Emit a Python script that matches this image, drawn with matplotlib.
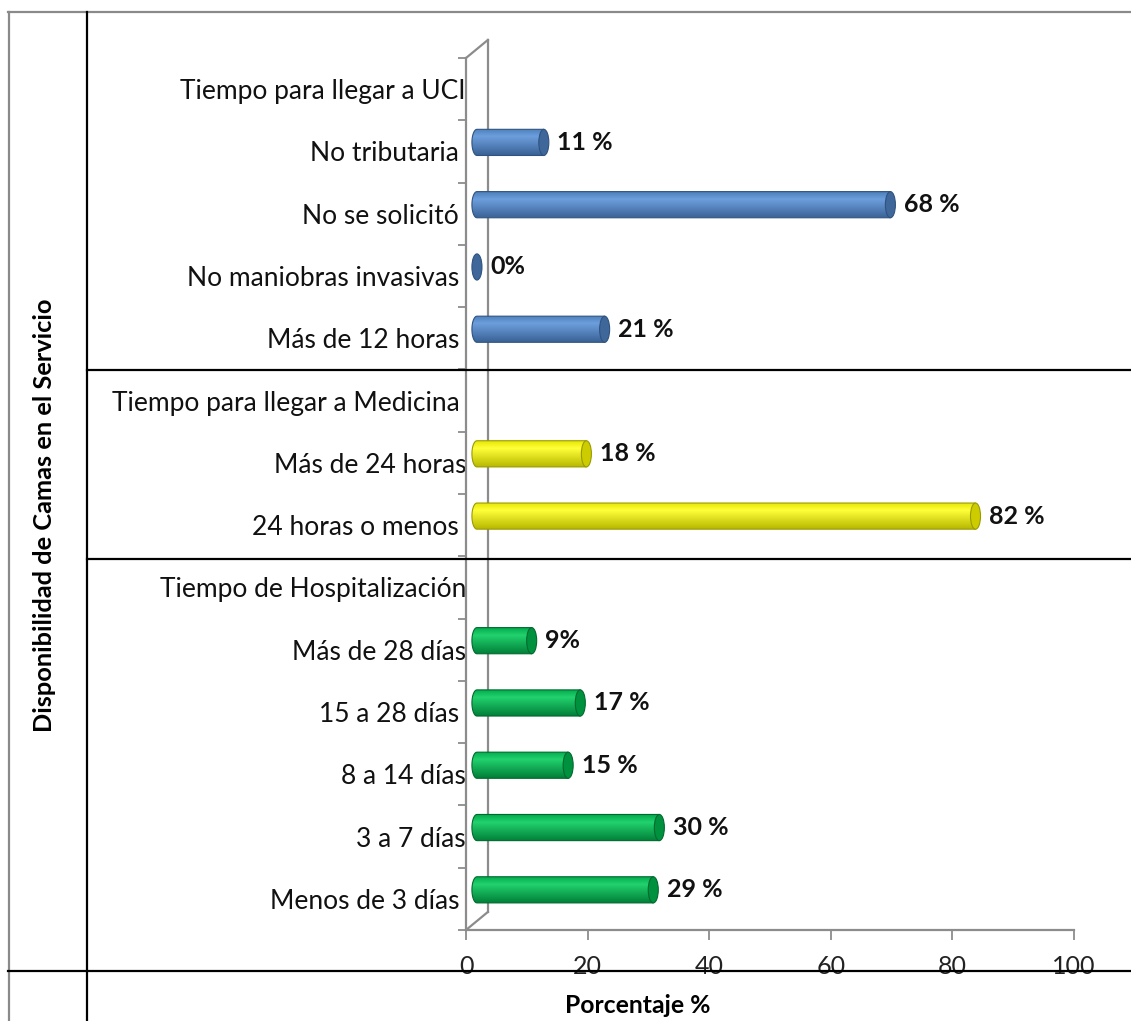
import matplotlib
matplotlib.use("Agg")
import matplotlib.pyplot as plt
import numpy as np
from matplotlib.path import Path
from matplotlib.patches import PathPatch, Ellipse
from matplotlib.lines import Line2D

plt.rcParams['font.family'] = ['Lato', 'DejaVu Sans']

# data, listed top to bottom as in the picture
categories = ["Tiempo para llegar a UCI", "No tributaria ", "No se solicitó ",
              "No maniobras invasivas ", "Más de 12 horas ",
              "Tiempo para llegar a Medicina ", "Más de 24 horas",
              "24 horas o menos ", "Tiempo de Hospitalización",
              "Más de 28 días", "15 a 28 días ", "8 a 14 días", "3 a 7 días",
              "Menos de 3 días "]
values = [None, 11, 68, 0, 21, None, 18, 82, None, 9, 17, 15, 30, 29]
value_labels = ["", "11 %", "68 %", "0%", "21 %", "", "18 %", "82 %", "",
                "9%", "17 %", "15 %", "30 %", "29 %"]
groups = ["uci"] * 5 + ["med"] * 3 + ["hosp"] * 6
x_ticks = [0, 20, 40, 60, 80, 100]

# (top, highlight, bottom, cap, edge)
palette = {
    "uci": ("#4a7cb8", "#6d9fdd", "#3a6296", "#3f6799", "#2f5380"),
    "med": ("#e4e400", "#ffff3a", "#b8b800", "#cccc00", "#9a9a00"),
    "hosp": ("#00a84a", "#22d26e", "#007f38", "#00913f", "#006a2e"),
}

W, H = 1131, 1021
fig = plt.figure(figsize=(W / 100, H / 100), dpi=100)

def fx(px):
    return px / W

def fy(py):
    return 1 - py / H

ax = fig.add_axes([fx(466), fy(930), fx(1074) - fx(466), fy(58) - fy(930)])
n = len(categories)
ax.set_xlim(0, 100)
ax.set_ylim(-0.5, n - 0.5)

gray = "#8c8c8c"
for s in ["top", "right"]:
    ax.spines[s].set_visible(False)
for s in ["left", "bottom"]:
    ax.spines[s].set_color(gray)
    ax.spines[s].set_linewidth(1.6)

ax.set_xticks(x_ticks)
ax.set_xticklabels([str(t) for t in x_ticks], fontsize=18, color="#222222")
ax.tick_params(axis="x", length=7, width=1.3, color=gray, pad=11)

ypos = np.arange(n)[::-1]
ax.set_yticks(ypos)
ax.set_yticklabels(categories, fontsize=19, color="#111111")
ax.tick_params(axis="y", which="major", length=0, pad=0)
ax.set_yticks(np.arange(-0.5, n, 1.0), minor=True)
ax.tick_params(axis="y", which="minor", length=6, width=1.3, color=gray)

# 3d depth of the chart box
ddx, ddy = 3.6, 0.29
frame = dict(color=gray, lw=1.6, clip_on=False, zorder=1)
ax.plot([ddx, ddx], [-0.5 + ddy, n - 0.5 + ddy], **frame)
ax.plot([0, ddx], [n - 0.5, n - 0.5 + ddy], **frame)
ax.plot([0, ddx], [-0.5, -0.5 + ddy], **frame)

x0 = ddx / 2
bar_h = 0.42
cap_w = 1.65


def gradient(top, hi, bot, N=64):
    c = [matplotlib.colors.to_rgb(k) for k in (bot, hi, top)]
    pos = [0.0, 0.7, 1.0]
    t = np.linspace(0, 1, N)
    arr = np.zeros((N, 1, 3))
    for ch in range(3):
        arr[:, 0, ch] = np.interp(t, pos, [c[0][ch], c[1][ch], c[2][ch]])
    return arr


for y, v, lab, g in zip(ypos, values, value_labels, groups):
    if v is None:
        continue
    top, hi, bot, cap, edge = palette[g]
    cy = y + ddy / 2
    yb, yt = cy - bar_h / 2, cy + bar_h / 2
    x1 = x0 + v
    if v > 0:
        t = np.linspace(0.5 * np.pi, 1.5 * np.pi, 30)
        left = np.column_stack([x0 + cap_w / 2 * np.cos(t), cy + bar_h / 2 * np.sin(t)])
        verts = np.vstack([left, [[x1, yb], [x1, yt], [x0, yt]]])
        body = PathPatch(Path(verts), facecolor="none", edgecolor=edge, lw=0.8, zorder=2.5)
        ax.add_patch(body)
        im = ax.imshow(gradient(top, hi, bot), extent=[x0 - cap_w, x1, yb, yt],
                       aspect="auto", origin="lower", zorder=2, interpolation="bilinear")
        im.set_clip_path(body)
    ax.add_patch(Ellipse((x1, cy), cap_w, bar_h, facecolor=cap, edgecolor=edge,
                         lw=0.8, zorder=3))
    ax.text(x1 + cap_w / 2 + 1.4, cy, lab, fontsize=18, fontweight="bold",
            va="center", ha="left", color="#111111", zorder=4)

ax.set_xlim(0, 100)
ax.set_ylim(-0.5, n - 0.5)

# table lines around the chart
def hline(py, xa, xb, color="black", lw=1.6):
    fig.add_artist(Line2D([fx(xa), fx(xb)], [fy(py), fy(py)], color=color, lw=lw))

def vline(px, ya, yb, color="black", lw=1.6):
    fig.add_artist(Line2D([fx(px), fx(px)], [fy(ya), fy(yb)], color=color, lw=lw))

vline(8.5, 12, H, color="#8a8a8a")
hline(12.5, 8, W, color="#8a8a8a")
vline(87, 12, H)
hline(370, 87, W)
hline(559, 87, W)
hline(971, 8, W)

fig.text(fx(45), fy(515), "Disponibilidad de Camas en el Servicio", rotation=90,
         fontsize=18.3, fontweight="bold", ha="center", va="center")
fig.text(fx(638), fy(1005), "Porcentaje %", fontsize=17.8, fontweight="bold",
         ha="center", va="center")

fig.savefig("out.png", dpi=100)
